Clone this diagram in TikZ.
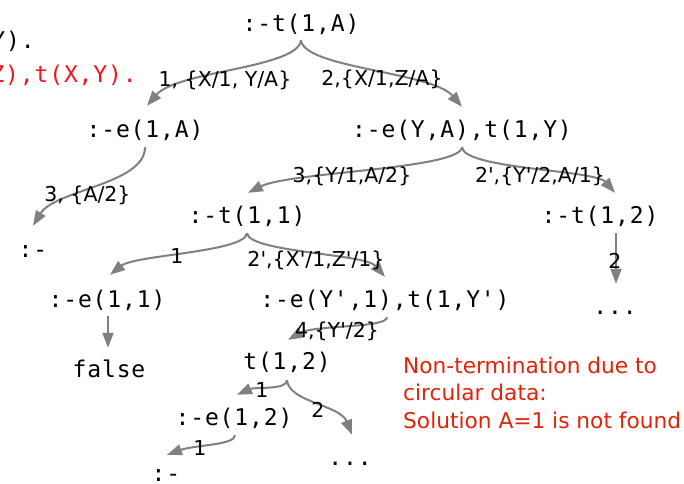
\documentclass[tikz,border=0pt]{standalone}
\usepackage{fontspec}
\setmainfont[Ligatures=TeXOff]{DejaVu Sans}
\setmonofont[LetterSpace=3.7]{DejaVu Sans Mono}
\usetikzlibrary{arrows.meta}
\definecolor{arrgray}{RGB}{128,128,128}
\definecolor{codered}{RGB}{245,20,20}
\definecolor{notered}{RGB}{225,35,10}
\begin{document}
\begin{tikzpicture}[x=1pt,y=-1pt,
  code/.style={anchor=base,inner sep=0pt,text height=16pt,text depth=3pt,font=\ttfamily\fontsize{23}{27}\selectfont},
  lbl/.style={anchor=base,inner sep=0pt,font=\fontsize{20.5}{24}\selectfont},
  note/.style={anchor=base west,inner sep=0pt,text=notered,font=\fontsize{21.7}{26}\selectfont},
  arr/.style={draw=arrgray,line width=2pt,-{Triangle[length=15pt,width=11pt]}},
]
\useasboundingbox (0,0) rectangle (684,483);

% cut-off program text on the left
\node[code,anchor=base west] (prevA) at (-8.75,48) {Y).};
\node[code,anchor=base west,text=codered] (prevB) at (-9.65,82) {Z),t(X,Y).};

% tree nodes
\node[code] (root) at (301,31) {:-t(1,A)};
\node[code] (eA) at (145,137) {:-e(1,A)};
\node[code] (eYA) at (462,137) {:-e(Y,A),t(1,Y)};
\node[code] (c1) at (33,257) {:-};
\node[code] (t11) at (247,223) {:-t(1,1)};
\node[code] (t12) at (600,223) {:-t(1,2)};
\node[code] (dotsR) at (615,314) {...};
\node[code] (e11) at (107,307) {:-e(1,1)};
\node[code] (false) at (109,377) {false};
\node[code] (eY1) at (385,307) {:-e(Y',1),t(1,Y')};
\node[code] (t12b) at (287,369) {t(1,2)};
\node[code] (e12) at (234,425) {:-e(1,2)};
\node[code] (dotsB) at (350,465) {...};
\node[code] (c2) at (166,481) {:-};

% connectors
\draw[arr] ([shift={(0,6)}]root.south) .. controls +(-3,28) and +(30,-35) .. ([shift={(2,-15)}]eA.north);
\draw[arr] ([shift={(0,6)}]root.south) .. controls +(3,28) and +(-30,-35) .. ([shift={(0,-14)}]eYA.north);
\draw[arr] ([shift={(0,7)}]eA.south) .. controls +(0,37) and +(22,-36) .. ([shift={(0,-15)}]c1.north);
\draw[arr] ([shift={(0,7)}]eYA.south) .. controls +(-2,22) and +(42,-21) .. ([shift={(1,-14)}]t11.north);
\draw[arr] ([shift={(0,7)}]eYA.south) .. controls +(2,22) and +(-20,-23) .. ([shift={(15,-14)}]t12.north);
\draw[arr] ([shift={(16,7)}]t12.south) -- ([shift={(1,-14)}]dotsR.north);
\draw[arr] ([shift={(0,7)}]t11.south) .. controls +(-2,19) and +(25,-20) .. ([shift={(3,-16)}]e11.north);
\draw[arr] ([shift={(0,7)}]t11.south) .. controls +(2,19) and +(-20,-23) .. ([shift={(0,-14)}]eY1.north);
\draw[arr] ([shift={(1,6)}]e11.south) -- ([shift={(-1,-13)}]false.north);
\draw[arr] ([shift={(2,7)}]eY1.south) .. controls +(0,11) and +(27,-15) .. ([shift={(1,-13)}]t12b.north);
\draw[arr] ([shift={(0,8)}]t12b.south) .. controls +(0,10) and +(18,-8) .. ([shift={(3,-14)}]e12.north);
\draw[arr] ([shift={(0,8)}]t12b.south) .. controls +(2,22) and +(-12,-30) .. ([shift={(2,-14)}]dotsB.north);
\draw[arr] ([shift={(1,7)}]e12.south) .. controls +(0,10) and +(28,-10) .. ([shift={(1,-10)}]c2.north);

% edge labels
\node[lbl] (l1) at (225,86) {1, \{X/1, Y/A\}};
\node[lbl] (l2) at (382,85) {2,\{X/1,Z/A\}};
\node[lbl] (l3) at (87.5,201) {3, \{A/2\}};
\node[lbl] (l4) at (352,182) {3,\{Y/1,A/2\}};
\node[lbl] (l5) at (540,182) {2',\{Y'/2,A/1\}};
\node[lbl] (l6) at (615,268) {2};
\node[lbl] (l7) at (177,263) {1};
\node[lbl] (l8) at (316,266) {2',\{X'/1,Z'/1\}};
\node[lbl] (l9) at (337,337) {4,\{Y'/2\}};
\node[lbl] (l10) at (262,397) {1};
\node[lbl] (l11) at (318,417) {2};
\node[lbl] (l12) at (200,455) {1};

% note
\node[note] (n1) at (403,373) {Non-termination due to};
\node[note] (n2) at (403,400) {circular data:};
\node[note] (n3) at (403,428) {Solution A=1 is not found};
\end{tikzpicture}
\end{document}
